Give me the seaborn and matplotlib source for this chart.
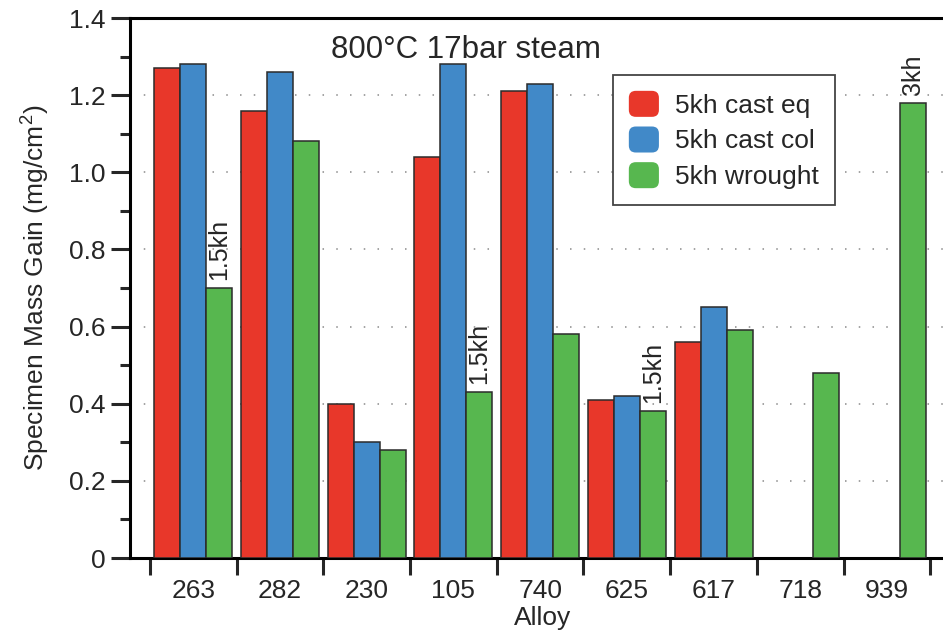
import numpy as np
import pandas as pd
import matplotlib
matplotlib.use("Agg")
import matplotlib.pyplot as plt
from matplotlib.patches import FancyBboxPatch, Patch
from matplotlib.legend_handler import HandlerPatch
import seaborn as sns

# ---- data -------------------------------------------------------------
alloys = ["263", "282", "230", "105", "740", "625", "617", "718", "939"]
series = ["5kh cast eq", "5kh cast col", "5kh wrought"]
cast_eq = [1.27, 1.16, 0.40, 1.04, 1.21, 0.41, 0.56, np.nan, np.nan]
cast_col = [1.28, 1.26, 0.30, 1.28, 1.23, 0.42, 0.65, np.nan, np.nan]
wrought = [0.70, 1.08, 0.28, 0.43, 0.58, 0.38, 0.59, 0.48, 1.18]
note_alloys = ["263", "105", "625", "939"]
note_texts = ["1.5kh", "1.5kh", "1.5kh", "3kh"]
y_ticks = [0, 0.2, 0.4, 0.6, 0.8, 1.0, 1.2, 1.4]
y_tick_labels = ["0", "0.2", "0.4", "0.6", "0.8", "1.0", "1.2", "1.4"]
title = "800°C 17bar steam"

colors = ["#E8372A", "#4189C8", "#57B74F"]

df = pd.DataFrame({
    "alloy": alloys * 3,
    "series": [s for s in series for _ in alloys],
    "gain": cast_eq + cast_col + wrought,
}).dropna()

# ---- style ------------------------------------------------------------
sns.set_style("white")
plt.rcParams["font.family"] = ["Liberation Sans", "DejaVu Sans"]
plt.rcParams["mathtext.default"] = "regular"

W, H = 943, 636
fig = plt.figure(figsize=(W / 100, H / 100), dpi=100)
left, right, top, bottom = 129.5, 955, 18, 558
ax = fig.add_axes([left / W, 1 - bottom / H, (right - left) / W, (bottom - top) / H])

sns.barplot(data=df, x="alloy", y="gain", hue="series", order=alloys,
            hue_order=series, palette=colors, width=0.9, errorbar=None,
            edgecolor="#2b2b2b", linewidth=1.1, saturation=1, ax=ax,
            legend=False, zorder=3)

ax.set_xlim(-0.736, 8.785)
ax.set_ylim(0, 1.4)

# axis frame
for side in ["left", "bottom", "top"]:
    ax.spines[side].set_linewidth(2.2)
    ax.spines[side].set_color("black")
ax.spines["right"].set_visible(False)

# ticks
ax.set_xticks(range(len(alloys)))
ax.set_xticklabels(alloys)
ax.set_xticks(np.arange(-0.5, len(alloys), 1), minor=True)
ax.tick_params(axis="x", which="major", length=0, pad=15, labelsize=19)
ax.tick_params(axis="x", which="minor", direction="out", length=12.5,
               width=2.2, bottom=True)
ax.set_yticks(y_ticks)
ax.set_yticklabels(y_tick_labels)
ax.set_yticks(np.arange(0.1, 1.4, 0.2), minor=True)
ax.tick_params(axis="y", which="major", direction="out", length=13.5,
               width=2.2, pad=4, labelsize=19, left=True)
ax.tick_params(axis="y", which="minor", direction="out", length=7,
               width=2.2, left=True)

# dotted horizontal grid
ax.yaxis.grid(True, which="major", linestyle=(0, (1, 8)), color="#8a8a8a",
              linewidth=1.1)
ax.xaxis.grid(False)
ax.set_axisbelow(True)

ax.set_xlabel("Alloy", fontsize=19, labelpad=2)
ax.set_ylabel("Specimen Mass Gain (mg/cm$^2$)", fontsize=19, labelpad=12)

# duration notes above the wrought bars
green_bars = ax.containers[2]
for bar in green_bars:
    idx = int(round(bar.get_x() + bar.get_width() / 2 - 0.3))
    name = alloys[idx]
    if name in note_alloys:
        txt = note_texts[note_alloys.index(name)]
        ax.annotate(txt, (bar.get_x() + bar.get_width() / 2, bar.get_height()),
                    xytext=(0, 6), textcoords="offset points", rotation=90,
                    ha="center", va="bottom", fontsize=18, zorder=5)

fig.text(465.5 / W, 1 - 58 / H, title, ha="center", va="baseline", fontsize=22.5)


# rounded legend swatches
class RoundedHandler(HandlerPatch):
    def create_artists(self, legend, orig_handle, xdescent, ydescent,
                       width, height, fontsize, trans):
        p = FancyBboxPatch((-xdescent, -ydescent), width, height,
                           boxstyle="round,pad=0,rounding_size=5",
                           facecolor=orig_handle.get_facecolor(),
                           edgecolor="none", transform=trans)
        return [p]


handles = [Patch(facecolor=c, label=s) for c, s in zip(colors, series)]
leg = fig.legend(handles=handles, loc="upper left",
                 bbox_to_anchor=(613 / W, 1 - 75 / H), borderaxespad=0,
                 fontsize=19, frameon=True, fancybox=False, framealpha=1,
                 handlelength=1.14, handleheight=1.14, handletextpad=0.62,
                 labelspacing=0.33, borderpad=0.6,
                 handler_map={Patch: RoundedHandler()})
leg.get_frame().set_edgecolor("#444444")
leg.get_frame().set_linewidth(1.3)

fig.savefig("out.png", dpi=100)
